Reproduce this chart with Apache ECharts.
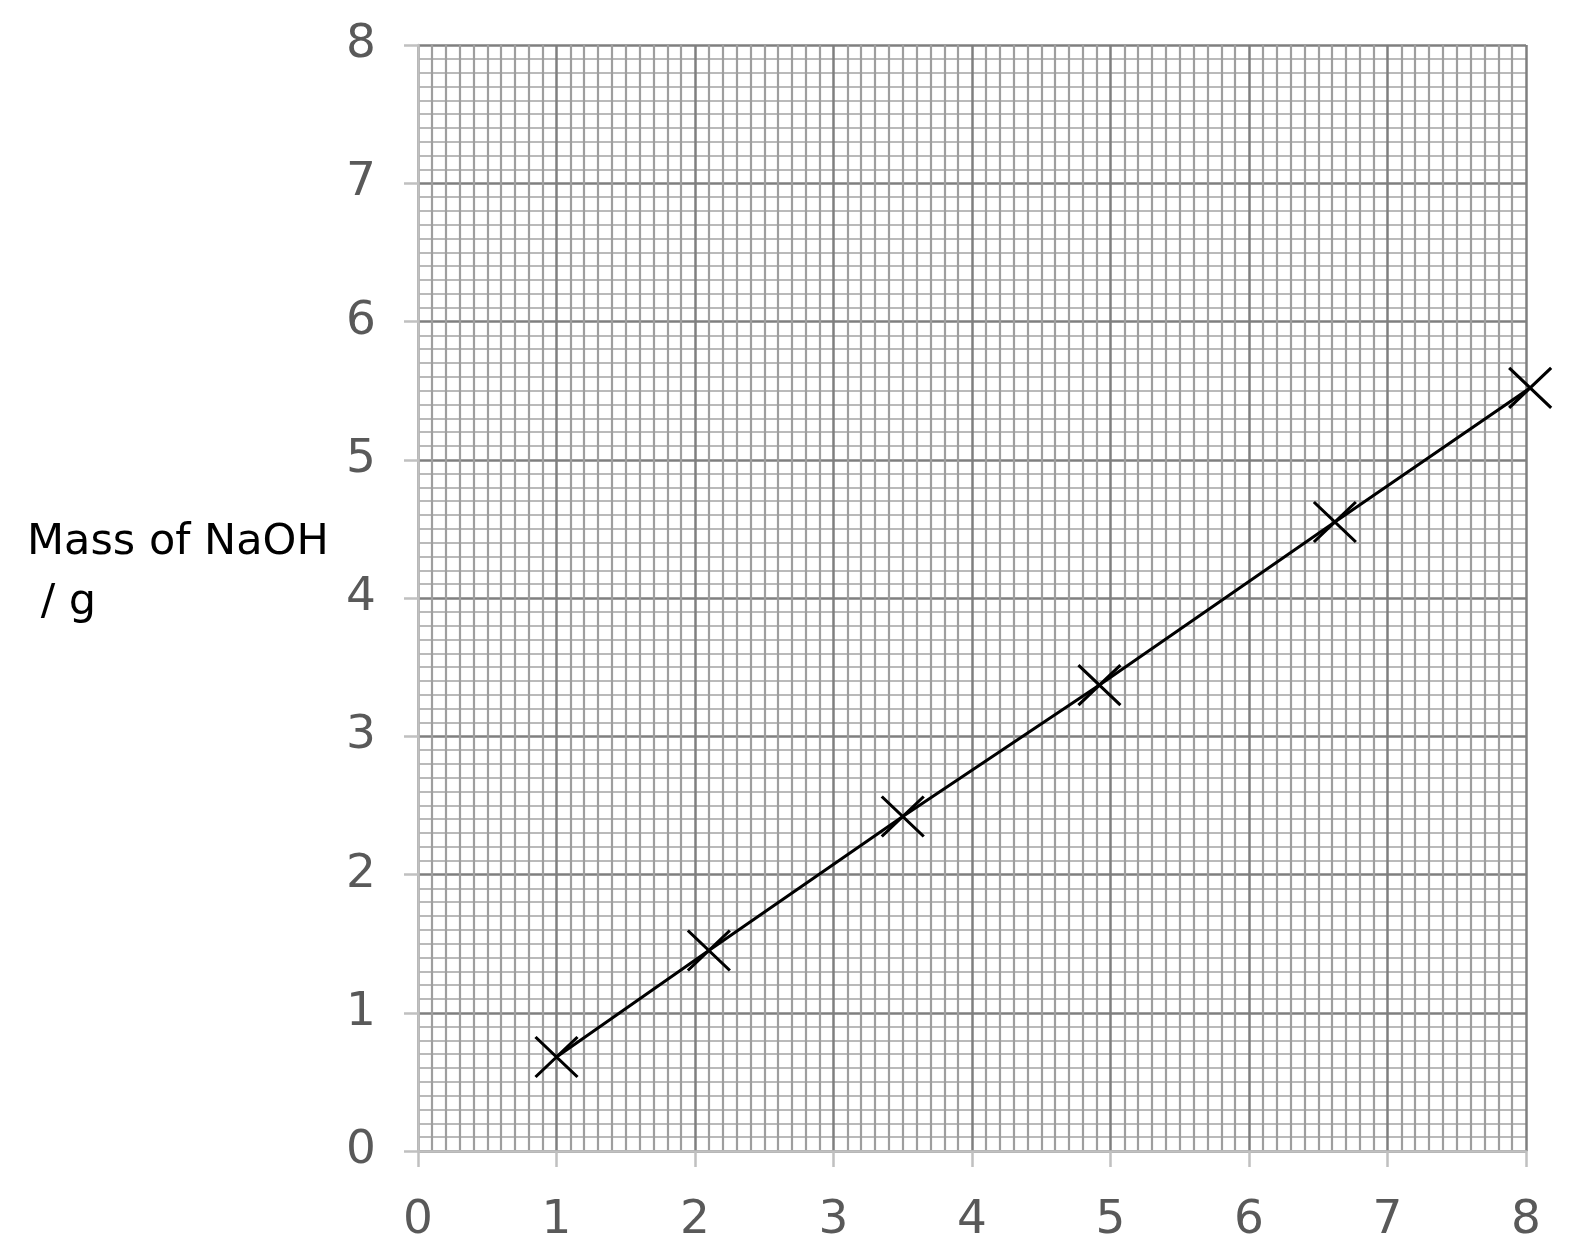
<!DOCTYPE html>
<html>
<head>
<meta charset="utf-8">
<script src="https://cdn.jsdelivr.net/npm/echarts@6/dist/echarts.min.js"></script>
<style>
    html, body { margin: 0; padding: 0; background: #fff; }
    #chart { width: 1574px; height: 1254px; }
</style>
</head>
<body>
<div id="chart"></div>
<script>
// readings off the graph paper
var volume = [1, 2.1, 3.5, 4.92, 6.62, 8.03];
var massNaOH = [0.68, 1.45, 2.42, 3.37, 4.55, 5.52];
var yTitle = 'Mass of NaOH\n / g';

var points = [];
for (var i = 0; i < volume.length; i++) {
    points.push([volume[i], massNaOH[i]]);
}

var chart = echarts.init(document.getElementById('chart'));

var labelStyle = {
    color: '#595959',
    fontSize: 47,
    fontFamily: 'DejaVu Sans'
};

option = {
    animation: false,
    title: {
        text: yTitle,
        left: 22,
        top: 508,
        textStyle: {
            color: '#000',
            fontSize: 43,
            fontWeight: 'normal',
            fontFamily: 'DejaVu Sans',
            lineHeight: 60
        }
    },
    grid: {
        left: 418,
        top: 45,
        width: 1108,
        height: 1106
    },
    xAxis: {
        type: 'value',
        min: 0,
        max: 8,
        interval: 1,
        axisLine: { show: true, onZero: false, lineStyle: { color: '#c0c0c0', width: 2.5 } },
        axisTick: { show: true, length: 16, lineStyle: { color: '#c0c0c0', width: 2.5 } },
        axisLabel: Object.assign({ margin: 46 }, labelStyle),
        splitLine: { show: true, lineStyle: { color: '#7f7f7f', width: 2.5 } },
        minorTick: { show: false, splitNumber: 10 },
        minorSplitLine: { show: true, lineStyle: { color: '#9e9e9e', width: 2.2 } }
    },
    yAxis: {
        type: 'value',
        min: 0,
        max: 8,
        interval: 1,
        axisLine: { show: true, onZero: false, lineStyle: { color: '#c0c0c0', width: 2.5 } },
        axisTick: { show: true, length: 14, lineStyle: { color: '#c0c0c0', width: 2.5 } },
        axisLabel: Object.assign({ margin: 42 }, labelStyle),
        splitLine: { show: true, lineStyle: { color: '#7f7f7f', width: 2.5 } },
        minorTick: { show: false, splitNumber: 10 },
        minorSplitLine: { show: true, lineStyle: { color: '#bababa', width: 2.2 } }
    },
    series: [{
        type: 'line',
        data: points,
        clip: false,
        symbol: 'path://M0,0L10,10M10,0L0,10',
        symbolSize: [42, 40],
        itemStyle: {
            color: 'transparent',
            borderColor: '#000',
            borderWidth: 3
        },
        lineStyle: { color: '#000', width: 3 },
        z: 5
    }]
};
chart.setOption(option);
</script>
</body>
</html>
